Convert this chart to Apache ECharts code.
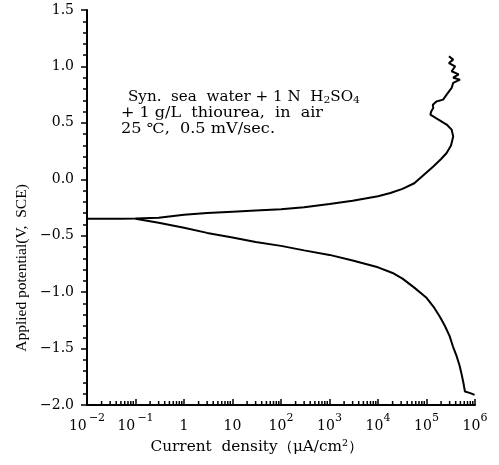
<!DOCTYPE html>
<html>
<head>
<meta charset="utf-8">
<script src="https://cdn.jsdelivr.net/npm/echarts@6/dist/echarts.min.js"></script>
<style>html,body{margin:0;padding:0;background:#fff}#c{width:499px;height:465px}</style>
</head>
<body>
<div id="c"></div>
<script>
// Anodic branch (current density uA/cm2, potential V vs SCE)
const anodicCurrent = [0.01, 0.05, 0.1, 0.3, 1, 3, 10, 30, 100, 300, 1000, 3000, 1e4, 1.8e4, 3.2e4, 5.6e4, 1e5, 1.4e5, 2e5, 2.6e5, 3.2e5, 3.55e5, 3.3e5, 2.6e5, 1.6e5, 1.2e5, 1.25e5, 1.38e5, 1.35e5, 1.6e5, 2.2e5, 2.6e5, 3.3e5, 3.55e5, 4.9e5, 3.55e5, 4.6e5, 3.3e5, 3.9e5, 2.9e5, 3.55e5, 2.9e5];
const anodicPotential = [-0.35, -0.35, -0.348, -0.34, -0.315, -0.298, -0.287, -0.277, -0.266, -0.248, -0.22, -0.19, -0.15, -0.122, -0.085, -0.035, 0.06, 0.115, 0.18, 0.233, 0.3, 0.38, 0.44, 0.485, 0.54, 0.573, 0.6, 0.632, 0.66, 0.69, 0.706, 0.75, 0.81, 0.854, 0.883, 0.9, 0.93, 0.957, 1.0, 1.03, 1.06, 1.09];
// Cathodic branch
const cathodicCurrent = [0.1, 0.3, 1, 3, 10, 30, 100, 300, 1000, 3000, 1e4, 2e4, 3.2e4, 5.6e4, 1e5, 1.4e5, 1.9e5, 2.4e5, 3e5, 3.5e5, 4.2e5, 4.8e5, 5.25e5, 5.75e5, 6.2e5, 8e5, 9.8e5];
const cathodicPotential = [-0.35, -0.385, -0.43, -0.475, -0.515, -0.555, -0.59, -0.63, -0.67, -0.72, -0.78, -0.83, -0.88, -0.96, -1.05, -1.13, -1.22, -1.3, -1.39, -1.48, -1.57, -1.65, -1.72, -1.8, -1.88, -1.895, -1.91];
// Axis ranges
const xMin = 0.01, xMax = 1e6;
const yMin = -2.0, yMax = 1.5, yStep = 0.5;
const minorDecades = [-2, -1, 0, 1, 2, 3, 4, 5];
const minorMultipliers = [2, 3, 4, 5, 6, 7, 8, 9];
// Annotation text segments: [text, isSubscript]
const noteLine1 = [['Syn.  sea  water + 1 N  H', 0], ['2', 1], ['SO', 0], ['4', 1]];
const noteLine2 = [['+ 1 g/L  thiourea,  in  air', 0]];
const noteLine3 = [['25 \u2103,  0.5 mV/sec.', 0]];
const xTitle = 'Current  density\uff08\u03bcA/cm\u00b2\uff09';
const yTitle = 'Applied potential(V,  SCE)';

const SERIF = '"DejaVu Serif",serif';
const TIMES = '"Liberation Serif",serif';
const pair = (xs, ys) => xs.map((x, i) => [x, ys[i]]);
const minorTicks = [];
minorDecades.forEach(d => minorMultipliers.forEach(m => minorTicks.push([m * Math.pow(10, d)])));

const ctx = document.createElement('canvas').getContext('2d');
function measure(text, size, fam) { ctx.font = size + 'px ' + fam; return ctx.measureText(text).width; }
const NOTE_SIZE = 14, SUB_SIZE = 10;
function noteText(segs) { return segs.map(s => (s[1] ? '{s|' : '{t|') + s[0] + '}').join(''); }
function noteWidth(segs) { return segs.reduce((a, s) => a + measure(s[0], s[1] ? SUB_SIZE : NOTE_SIZE, SERIF), 0); }
const noteRich = {
  t: {fontFamily: SERIF, fontSize: NOTE_SIZE, fill: '#000', lineHeight: 17},
  s: {fontFamily: SERIF, fontSize: SUB_SIZE, fill: '#000', lineHeight: 10, verticalAlign: 'bottom'}
};
function noteEl(segs, left, cy, target) {
  return {type: 'text', x: left, y: cy, scaleX: target / noteWidth(segs),
    style: {text: noteText(segs), rich: noteRich, textAlign: 'left', textVerticalAlign: 'middle'}};
}

const chart = echarts.init(document.getElementById('c'), null, {renderer: 'canvas'});
const lineStyle = {color: '#000', width: 2};
const xTitleW = measure(xTitle, 15, SERIF);
chart.setOption({
  animation: false,
  backgroundColor: '#fff',
  grid: {left: 87, right: 24, top: 10, bottom: 60, containLabel: false},
  xAxis: {
    type: 'log', logBase: 10, min: xMin, max: xMax, splitNumber: 8,
    axisLine: {show: true, onZero: false, lineStyle: {color: '#000', width: 2}},
    axisTick: {show: true, inside: true, length: 6, lineStyle: {color: '#000', width: 1.5}},
    splitLine: {show: false},
    axisLabel: {
      margin: 8, color: '#000',
      formatter: v => {
        const e = Math.round(Math.log10(v));
        if (e === 0) return '{b|1}';
        if (e === 1) return '{b|10}';
        return '{b|10}{s|' + (e < 0 ? '\u2009\u2212' + (-e) : e) + '}';
      },
      rich: {
        b: {fontFamily: SERIF, fontSize: 14, color: '#000', lineHeight: 20, verticalAlign: 'bottom'},
        s: {fontFamily: SERIF, fontSize: 11, color: '#000', lineHeight: 11, verticalAlign: 'top'}
      }
    }
  },
  yAxis: {
    type: 'value', min: yMin, max: yMax, interval: yStep,
    axisLine: {show: true, onZero: false, lineStyle: {color: '#000', width: 2}},
    axisTick: {show: true, inside: false, length: 6, lineStyle: {color: '#000', width: 1.5}},
    minorTick: {show: true, splitNumber: 5, length: 4, lineStyle: {color: '#000', width: 1.5}},
    splitLine: {show: false},
    minorSplitLine: {show: false},
    axisLabel: {
      margin: 13, color: '#000', fontFamily: SERIF, fontSize: 14,
      formatter: v => (v < 0 ? '\u2212' + Math.abs(v).toFixed(1) : v.toFixed(1))
    }
  },
  series: [
    {type: 'line', data: pair(anodicCurrent, anodicPotential), showSymbol: false, symbol: 'none', lineStyle: lineStyle, z: 3},
    {type: 'line', data: pair(cathodicCurrent, cathodicPotential), showSymbol: false, symbol: 'none', lineStyle: lineStyle, z: 3},
    {
      type: 'custom', data: minorTicks, silent: true, z: 4,
      renderItem: (params, api) => {
        const p = api.coord([api.value(0), yMin]);
        return {type: 'line', shape: {x1: p[0], y1: p[1], x2: p[0], y2: p[1] - 4}, style: {stroke: '#000', lineWidth: 1.5}};
      }
    }
  ],
  graphic: [
    noteEl(noteLine1, 128, 97, 232),
    noteEl(noteLine2, 121, 113, 202),
    noteEl(noteLine3, 121, 129, 154),
    {type: 'text', x: 257, y: 447, scaleX: 213 / xTitleW, style: {text: xTitle, fontFamily: SERIF, fontSize: 15, fill: '#000', textAlign: 'center', textVerticalAlign: 'middle'}},
    {type: 'text', x: 22, y: 268, rotation: Math.PI / 2, style: {text: yTitle, fontFamily: TIMES, fontSize: 15.5, fill: '#000', textAlign: 'center', textVerticalAlign: 'middle'}}
  ]
});
</script>
</body>
</html>
